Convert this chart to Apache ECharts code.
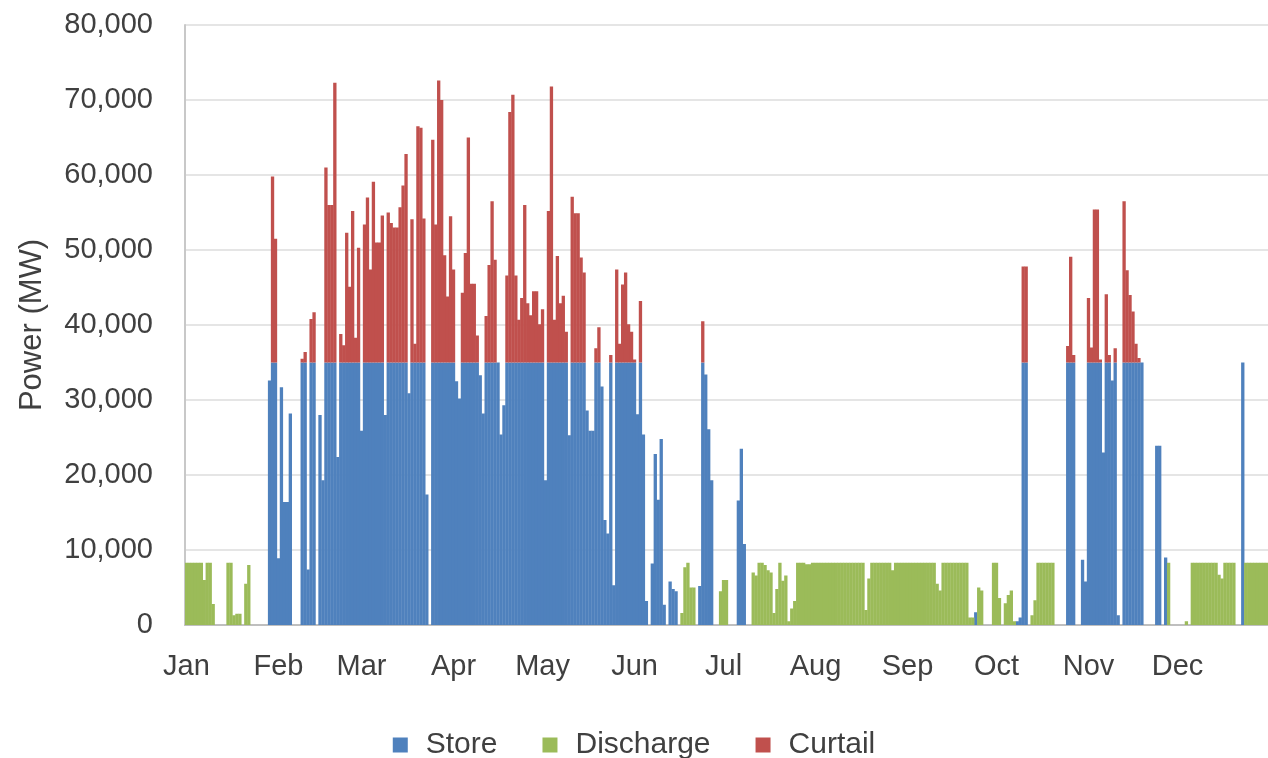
<!DOCTYPE html>
<html>
<head>
<meta charset="utf-8">
<script src="https://cdn.jsdelivr.net/npm/echarts@6/dist/echarts.min.js"></script>
<style>
  html, body { margin: 0; padding: 0; background: #ffffff; }
  #chart { width: 1268px; height: 758px; }
</style>
</head>
<body>
<div id="chart"></div>
<script>
// Month labels and lengths for a 365-day year
const monthLabels = ['Jan', 'Feb', 'Mar', 'Apr', 'May', 'Jun', 'Jul', 'Aug', 'Sep', 'Oct', 'Nov', 'Dec'];
const monthDays = [31, 28, 31, 30, 31, 30, 31, 31, 30, 31, 30, 31];
const yTicks = [0, 10000, 20000, 30000, 40000, 50000, 60000, 70000, 80000];

// Daily energy put into storage (MW), one line per month
const store = [
  0,0,0,0,0,0,0,0,0,0, 0,0,0,0,0,0,0,0,0,0, 0,0,0,0,0,0,0,0,32600,35000, 35000,
  8900,31700,16400,16400,28200,0,0,0,35000,35000, 7400,35000,35000,0,28000,19300,35000,35000,35000,35000, 22400,35000,35000,35000,35000,35000,35000,35000,
  25900,35000,35000,35000,35000,35000,35000,35000,28000,35000, 35000,35000,35000,35000,35000,35000,30900,35000,35000,35000, 35000,35000,17400,0,35000,35000,35000,35000,35000,35000, 35000,
  35000,32500,30200,35000,35000,35000,35000,35000,35000,33300, 28200,35000,35000,35000,35000,35000,25400,29300,35000,35000, 35000,35000,35000,35000,35000,35000,35000,35000,35000,35000,
  35000,19300,35000,35000,35000,35000,35000,35000,35000,25300, 35000,35000,35000,35000,35000,28600,25900,25900,35000,35000, 31800,14000,12200,35000,5300,35000,35000,35000,35000,35000, 35000,
  35000,28100,35000,25400,3200,0,8200,22800,16700,24800, 2700,0,5800,4800,4500,0,0,0,0,0, 0,0,5200,35000,33400,26100,19300,0,0,0,
  0,0,0,0,0,16600,23500,10800,0,0, 0,0,0,0,0,0,0,0,0,0, 0,0,0,0,0,0,0,0,0,0, 0,
  0,0,0,0,0,0,0,0,0,0, 0,0,0,0,0,0,0,0,0,0, 0,0,0,0,0,0,0,0,0,0, 0,
  0,0,0,0,0,0,0,0,0,0, 0,0,0,0,0,0,0,0,0,0, 0,0,0,1700,0,0,0,0,0,0,
  0,0,0,0,0,0,0,500,1000,35000, 35000,0,0,0,0,0,0,0,0,0, 0,0,0,0,35000,35000,35000,0,0,8700, 5800,
  35000,35000,35000,35000,35000,23000,35000,35000,32600,35000, 1300,0,35000,35000,35000,35000,35000,35000,35000,0, 0,0,0,23900,23900,0,9000,0,0,0,
  0,0,0,0,0,0,0,0,0,0, 0,0,0,0,0,0,0,0,0,0, 0,0,35000,0,0,0,0,0,0,0, 0
];

// Daily discharge from storage (MW)
const discharge = [
  8300,8300,8300,8300,8300,8300,6000,8300,8300,2800, 0,0,0,0,8300,8300,1300,1500,1500,0, 5500,8000,0,0,0,0,0,0,0,0, 0,
  0,0,0,0,0,0,0,0,0,0, 0,0,0,0,0,0,0,0,0,0, 0,0,0,0,0,0,0,0,
  0,0,0,0,0,0,0,0,0,0, 0,0,0,0,0,0,0,0,0,0, 0,0,0,0,0,0,0,0,0,0, 0,
  0,0,0,0,0,0,0,0,0,0, 0,0,0,0,0,0,0,0,0,0, 0,0,0,0,0,0,0,0,0,0,
  0,0,0,0,0,0,0,0,0,0, 0,0,0,0,0,0,0,0,0,0, 0,0,0,0,0,0,0,0,0,0, 0,
  0,0,0,0,0,0,0,0,0,0, 0,0,0,0,0,0,1600,7700,8300,5000, 5000,0,0,0,0,0,0,0,0,4500,
  6000,6000,0,0,0,0,0,0,0,0, 7000,6600,8300,8300,8000,7300,7000,1600,4800,8300, 5900,6600,500,2200,3200,8300,8300,8300,8100,8100, 8300,
  8300,8300,8300,8300,8300,8300,8300,8300,8300,8300, 8300,8300,8300,8300,8300,8300,8300,2000,6200,8300, 8300,8300,8300,8300,8300,8300,7300,8300,8300,8300, 8300,
  8300,8300,8300,8300,8300,8300,8300,8300,8300,8300, 5500,4600,8300,8300,8300,8300,8300,8300,8300,8300, 8300,1000,1000,0,5000,4600,0,0,0,8300,
  8300,3600,0,2900,4000,4600,500,0,0,0, 0,0,1300,3300,8300,8300,8300,8300,8300,8300, 0,0,0,0,0,0,0,0,0,0, 0,
  0,0,0,0,0,0,0,0,0,0, 0,0,0,0,0,0,0,0,0,0, 0,0,0,0,0,0,0,8300,0,0,
  0,0,0,500,0,8300,8300,8300,8300,8300, 8300,8300,8300,8300,6700,6200,8300,8300,8300,8300, 0,0,0,8300,8300,8300,8300,8300,8300,8300, 8300
];

// Daily curtailed generation (MW), stacked above storage
const curtail = [
  0,0,0,0,0,0,0,0,0,0, 0,0,0,0,0,0,0,0,0,0, 0,0,0,0,0,0,0,0,0,24800, 16500,
  0,0,0,0,0,0,0,0,500,1400, 0,5800,6700,0,0,0,26000,21000,21000,37300, 0,3800,2300,17300,10100,20200,3300,15300,
  0,18400,22000,12400,24100,16000,16000,19600,0,20000, 18600,18000,18000,20700,23600,27800,0,19100,2500,31500, 31300,19200,0,0,29700,18400,37600,35000,14300,8800, 19500,
  12400,0,0,9300,14600,30000,10500,10500,3600,0, 0,6200,13000,21500,13700,0,0,0,11600,33400, 35700,11600,5700,8600,21000,7900,6300,9500,9500,5100,
  7100,0,20200,36800,5700,14200,7900,8900,4100,0, 22100,19900,19900,14000,12000,0,0,0,1900,4700, 0,0,0,1000,0,12400,2500,10400,12000,5100, 4100,
  400,0,8200,0,0,0,0,0,0,0, 0,0,0,0,0,0,0,0,0,0, 0,0,0,5500,0,0,0,0,0,0,
  0,0,0,0,0,0,0,0,0,0, 0,0,0,0,0,0,0,0,0,0, 0,0,0,0,0,0,0,0,0,0, 0,
  0,0,0,0,0,0,0,0,0,0, 0,0,0,0,0,0,0,0,0,0, 0,0,0,0,0,0,0,0,0,0, 0,
  0,0,0,0,0,0,0,0,0,0, 0,0,0,0,0,0,0,0,0,0, 0,0,0,0,0,0,0,0,0,0,
  0,0,0,0,0,0,0,0,0,12800, 12800,0,0,0,0,0,0,0,0,0, 0,0,0,0,2200,14100,1000,0,0,0, 0,
  8600,2000,20400,20400,400,0,9100,1000,0,1900, 0,0,21500,12300,9000,6800,2500,600,0,0, 0,0,0,0,0,0,0,0,0,0,
  0,0,0,0,0,0,0,0,0,0, 0,0,0,0,0,0,0,0,0,0, 0,0,0,0,0,0,0,0,0,0, 0
];

// Day categories and the index where each month begins
const days = [];
const monthStart = [];
monthDays.forEach(function (n, m) {
  monthStart.push(days.length);
  for (let d = 1; d <= n; d++) days.push(monthLabels[m] + ' ' + d);
});

const textColor = '#404040';
const font = 'Liberation Sans, Arial, sans-serif';
const colors = { Store: '#4f81bd', Discharge: '#9bbb59', Curtail: '#c0504d' };

function barSeries(name, data) {
  return {
    name: name,
    type: 'bar',
    stack: 'power',
    data: data,
    // slightly wider than one day so neighbouring days close up without seams
    barWidth: '112%',
    itemStyle: { color: colors[name] }
  };
}

const chart = echarts.init(document.getElementById('chart'), null, { renderer: 'canvas' });
chart.setOption({
  backgroundColor: '#ffffff',
  animation: false,
  grid: { left: 185, right: 0, top: 25, bottom: 133, containLabel: false },
  legend: {
    data: ['Store', 'Discharge', 'Curtail'],
    left: 'center',
    top: 725,
    icon: 'rect',
    itemWidth: 15,
    itemHeight: 15,
    itemGap: 45,
    textStyle: { color: textColor, fontSize: 30, fontFamily: font, padding: [0, 0, 0, 13] }
  },
  xAxis: {
    type: 'category',
    data: days,
    boundaryGap: true,
    axisLine: { lineStyle: { color: '#bfbfbf', width: 2 } },
    axisTick: { show: false },
    splitLine: { show: false },
    axisLabel: {
      interval: function (i) { return monthStart.indexOf(i) >= 0; },
      formatter: function (v, i) { return monthLabels[monthStart.indexOf(i)] || ''; },
      color: textColor,
      fontSize: 29,
      fontFamily: font,
      margin: 27
    }
  },
  yAxis: {
    type: 'value',
    min: yTicks[0],
    max: yTicks[yTicks.length - 1],
    interval: yTicks[1] - yTicks[0],
    name: 'Power (MW)',
    nameLocation: 'middle',
    nameGap: 137,
    nameTextStyle: { color: textColor, fontSize: 31, fontFamily: font },
    axisLine: { show: true, lineStyle: { color: '#c8c8c8', width: 2 } },
    axisTick: { show: false },
    splitLine: { lineStyle: { color: '#dcdcdc', width: 1.5 } },
    axisLabel: {
      color: textColor,
      fontSize: 29,
      fontFamily: font,
      margin: 32,
      formatter: function (v) { return v.toLocaleString('en-US'); }
    }
  },
  series: [
    barSeries('Store', store),
    barSeries('Discharge', discharge),
    barSeries('Curtail', curtail)
  ]
});
</script>
</body>
</html>
